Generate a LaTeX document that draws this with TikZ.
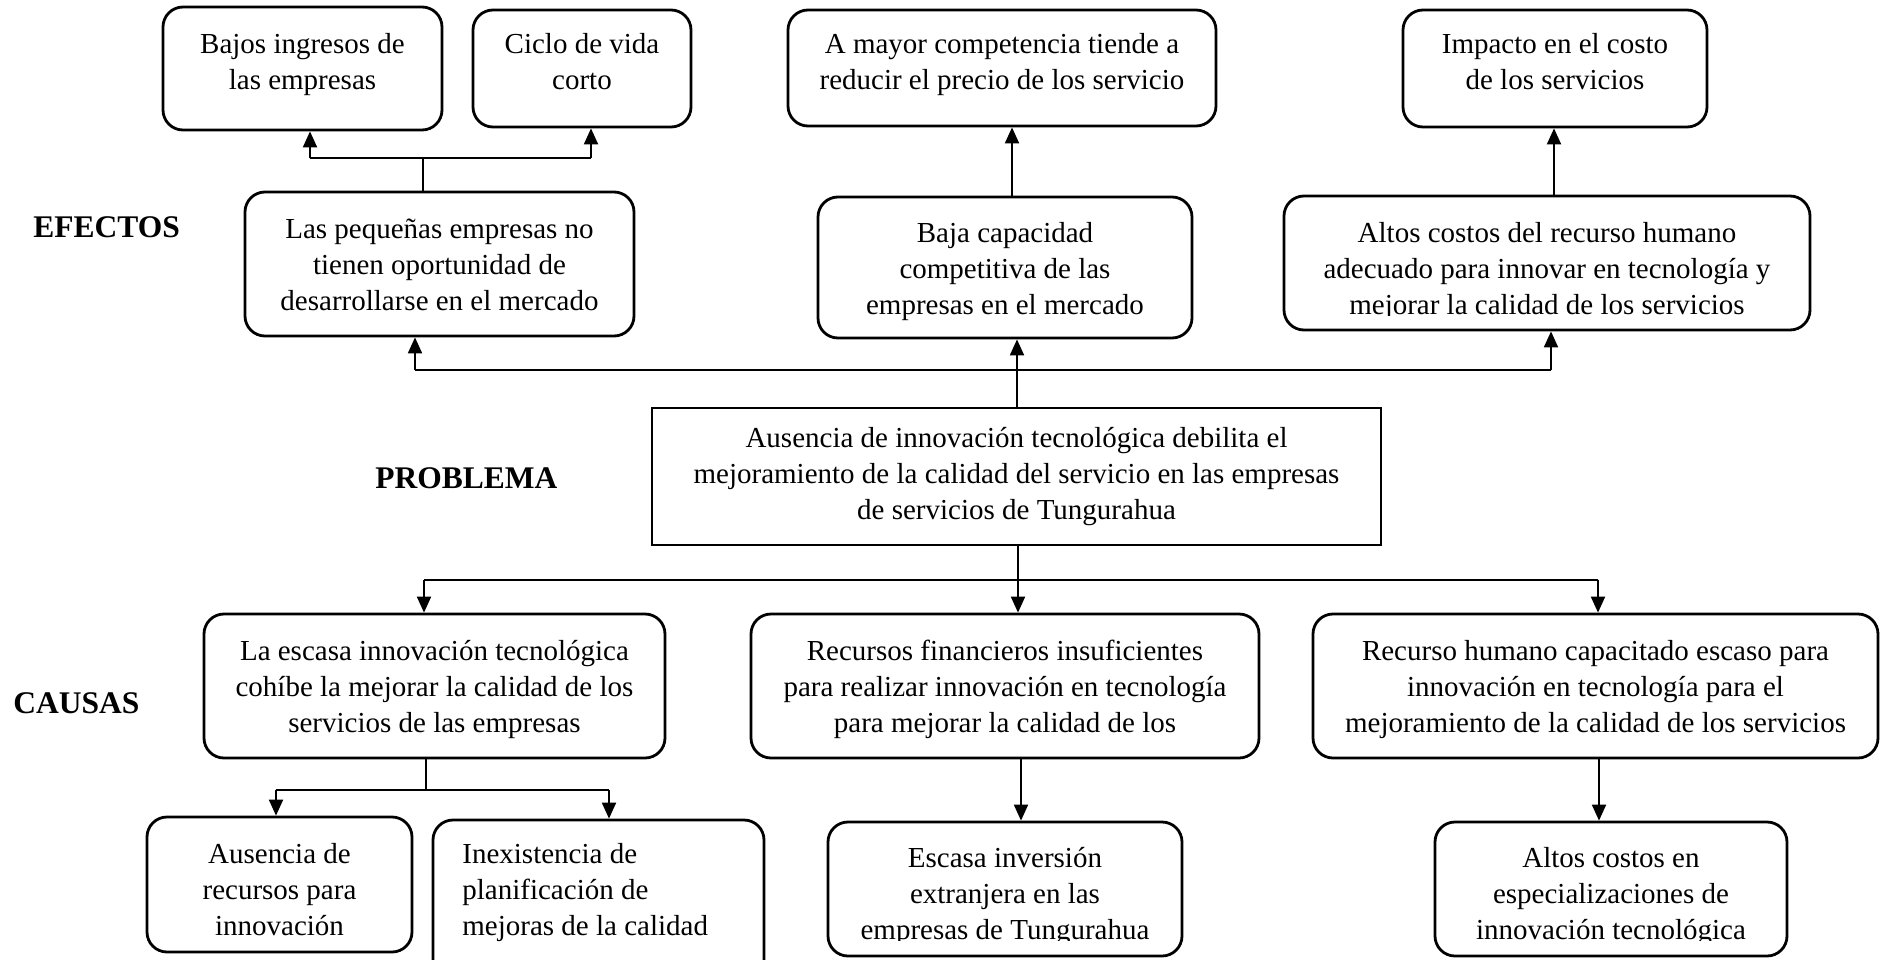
\documentclass[tikz,border=0pt]{standalone}
\usepackage{fontspec}
\setmainfont{Liberation Serif}
\usetikzlibrary{arrows.meta,fit}
\newcommand\boxlines[1]{\parbox[t]{420pt}{\centering #1}}
\newcommand\leftlines[1]{\parbox[t]{300pt}{\raggedright #1}}
\begin{document}
\begin{tikzpicture}[x=0.5pt,y=-0.5pt,
  rb/.style={draw, line width=1.4pt, rounded corners=10pt, inner sep=0pt},
  sb/.style={draw, line width=1.3pt, inner sep=0pt},
  txt/.style={inner sep=0pt, anchor=base, font=\fontsize{14.5}{18}\selectfont},
  lbl/.style={inner sep=0pt, anchor=base west, font=\fontsize{15.75}{19}\selectfont\bfseries},
  ln/.style={line width=0.9pt},
  arr/.style={line width=1pt, -{Triangle[length=8pt,width=7pt]}}]
\useasboundingbox (0,0) rectangle (1880,959);
\clip (0,0) rectangle (1880,959);

% ---- boxes: effects
\node[rb, fit={(163,7) (442,130)}] (bi) {};
\node[rb, fit={(473,10) (691,127)}] (cv) {};
\node[rb, fit={(788,10) (1216,126)}] (am) {};
\node[rb, fit={(1403,10) (1707,127)}] (ic) {};
\node[rb, fit={(245,192) (634,336)}] (lp) {};
\node[rb, fit={(818,197) (1192,338)}] (bc) {};
\node[rb, fit={(1284,196) (1810,330)}] (ac) {};
% ---- problem
\node[sb, fit={(652,408) (1381,545)}] (pb) {};
% ---- boxes: causes
\node[rb, fit={(204,614) (665,758)}] (le) {};
\node[rb, fit={(751,614) (1259,758)}] (rf) {};
\node[rb, fit={(1313,614) (1878,758)}] (rh) {};
\node[rb, fit={(147,817) (412,952)}] (au) {};
\node[rb, fit={(433,820) (764,980)}] (ie) {};
\node[rb, fit={(828,822) (1182,956)}] (es) {};
\node[rb, fit={(1435,822) (1787,956)}] (ae) {};

% ---- texts
\node[txt] (bi-t) at (302.5,53) {\boxlines{Bajos ingresos de\\las empresas}};
\node[txt] (cv-t) at (582,53) {\boxlines{Ciclo de vida\\corto}};
\node[txt] (am-t) at (1002,53) {\boxlines{A mayor competencia tiende a\\reducir el precio de los servicio}};
\node[txt] (ic-t) at (1555,53) {\boxlines{Impacto en el costo\\de los servicios}};
\node[txt] (lp-t) at (439.5,238) {\boxlines{Las pequeñas empresas no\\tienen oportunidad de\\desarrollarse en el mercado}};
\node[txt] (bc-t) at (1005,242) {\boxlines{Baja capacidad\\competitiva de las\\empresas en el mercado}};
\begin{scope}
  \clip (1284,196) rectangle (1810,315);
  \node[txt] (ac-t) at (1547,242) {\boxlines{Altos costos del recurso humano\\adecuado para innovar en tecnología y\\mejorar la calidad de los servicios}};
\end{scope}
\node[txt] (pb-t) at (1016.5,447) {\boxlines{Ausencia de innovación tecnológica debilita el\\mejoramiento de la calidad del servicio en las empresas\\de servicios de Tungurahua}};
\node[txt] (le-t) at (434.5,660) {\boxlines{La escasa innovación tecnológica\\cohíbe la mejorar la calidad de los\\servicios de las empresas}};
\node[txt] (rf-t) at (1005,660) {\boxlines{Recursos financieros insuficientes\\para realizar innovación en tecnología\\para mejorar la calidad de los}};
\node[txt] (rh-t) at (1595.5,660) {\boxlines{Recurso humano capacitado escaso para\\innovación en tecnología para el\\mejoramiento de la calidad de los servicios}};
\node[txt] (au-t) at (279.5,863) {\boxlines{Ausencia de\\recursos para\\innovación}};
\node[txt, anchor=base west] (ie-t) at (462,863) {\leftlines{Inexistencia de\\planificación de\\mejoras de la calidad}};
\begin{scope}
  \clip (828,822) rectangle (1182,940);
  \node[txt] (es-t) at (1005,867) {\boxlines{Escasa inversión\\extranjera en las\\empresas de Tungurahua}};
\end{scope}
\begin{scope}
  \clip (1435,822) rectangle (1787,940);
  \node[txt] (ae-t) at (1611,867) {\boxlines{Altos costos en\\especializaciones de\\innovación tecnológica}};
\end{scope}

% ---- side labels
\node[lbl] (efectos) at (33,237) {EFECTOS};
\node[lbl] (problema) at (375,488) {PROBLEMA};
\node[lbl] (causas) at (13,713) {CAUSAS};

% ---- connectors: effects
\coordinate (j1) at (423,158);
\coordinate (j1a) at (310,158);
\coordinate (j1b) at (591,158);
\draw[ln] (lp.north -| j1) -- (j1);
\draw[ln] (j1a) -- (j1b);
\draw[arr] (j1a) -- (bi.south -| j1a);
\draw[arr] (j1b) -- (cv.south -| j1b);

\coordinate (xa) at (1012,0);
\draw[arr] (bc.north -| xa) -- (am.south -| xa);
\coordinate (xc) at (1554,0);
\draw[arr] (ac.north -| xc) -- (ic.south -| xc);

\coordinate (xb) at (1017,0);
\draw[arr] (pb.north -| xb) -- (bc.south -| xb);
\coordinate (h1) at (415,370);
\coordinate (h2) at (1551,370);
\draw[ln] (h1) -- (h2);
\draw[arr] (h1) -- (lp.south -| h1);
\draw[arr] (h2) -- (ac.south -| h2);

% ---- connectors: causes
\coordinate (d0) at (1018,580);
\coordinate (d1) at (424,580);
\coordinate (d3) at (1598,580);
\draw[ln] (pb.south -| d0) -- (d0);
\draw[ln] (d1) -- (d3);
\draw[arr] (d1) -- (le.north -| d1);
\draw[arr] (d0) -- (rf.north -| d0);
\draw[arr] (d3) -- (rh.north -| d3);

\coordinate (e0) at (426,790);
\coordinate (e1) at (276,790);
\coordinate (e2) at (609,790);
\draw[ln] (le.south -| e0) -- (e0);
\draw[ln] (e1) -- (e2);
\draw[arr] (e1) -- (au.north -| e1);
\draw[arr] (e2) -- (ie.north -| e2);

\coordinate (xf) at (1021,0);
\draw[arr] (rf.south -| xf) -- (es.north -| xf);
\coordinate (xh) at (1599,0);
\draw[arr] (rh.south -| xh) -- (ae.north -| xh);
\end{tikzpicture}
\end{document}
